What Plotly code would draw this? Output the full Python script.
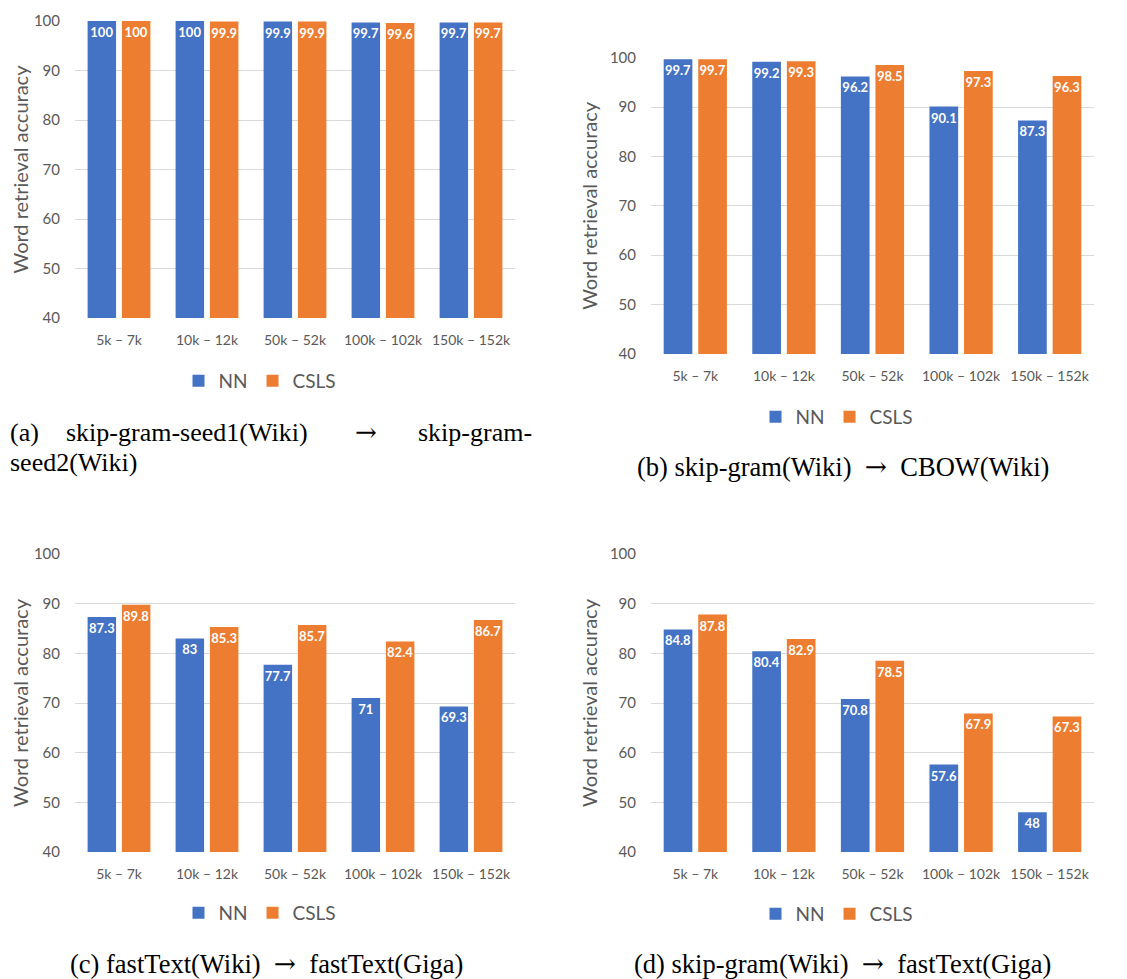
import plotly.graph_objects as go

W, H = 1127, 979
OFF = 8  # page body margin of the browser

categories = ["5k – 7k", "10k – 12k", "50k – 52k", "100k – 102k", "150k – 152k"]

nn_a = [100, 100, 99.9, 99.7, 99.7]
csls_a = [100, 99.9, 99.9, 99.6, 99.7]
nn_b = [99.7, 99.2, 96.2, 90.1, 87.3]
csls_b = [99.7, 99.3, 98.5, 97.3, 96.3]
nn_c = [87.3, 83, 77.7, 71, 69.3]
csls_c = [89.8, 85.3, 85.7, 82.4, 86.7]
nn_d = [84.8, 80.4, 70.8, 57.6, 48]
csls_d = [87.8, 82.9, 78.5, 67.9, 67.3]

y_ticks = [40, 50, 60, 70, 80, 90, 100]

ARROW = '<span style="font-family:\'DejaVu Serif\'">→</span>'
SARROW = f"&nbsp;{ARROW}&nbsp;"
captions = {
    "b": f"(b) skip-gram(Wiki) {SARROW} CBOW(Wiki)",
    "c": f"(c) fastText(Wiki) {SARROW} fastText(Giga)",
    "d": f"(d) skip-gram(Wiki) {SARROW} fastText(Giga)",
}

BLUE = "#4472C4"
ORANGE = "#ED7D31"
GRID = "#D9D9D9"
TXT = "#595959"
FONT = "Lato, 'Open Sans', sans-serif"
SERIF = "'Liberation Serif', 'Times New Roman', serif"
CAP = 26
CAP2 = 26.5


def px_x(v):
    return (v - OFF) / W


def px_y(v):
    return 1 - (v - OFF) / H


panels = [
    # (nn, csls, x0, x1, ytop, ybot, legend center x, legend y)
    (nn_a, csls_a, 75, 515, 21, 318, 260, 381),
    (nn_b, csls_b, 651, 1094, 57.7, 354, 837, 417),
    (nn_c, csls_c, 75, 515, 554, 852, 260, 913),
    (nn_d, csls_d, 651, 1094, 554, 852, 837, 914),
]

fig = go.Figure()
layout = dict(
    width=W,
    height=H,
    margin=dict(l=0, r=0, t=0, b=0, autoexpand=False),
    paper_bgcolor="white",
    plot_bgcolor="white",
    barmode="group",
    bargap=0.22,
    bargroupgap=0.17,
    font=dict(family=FONT, color=TXT),
    uniformtext=dict(minsize=13, mode="show"),
)

annotations = []
for i, (nn, cs, x0, x1, yt, yb, lx, ly) in enumerate(panels):
    n = i + 1
    xa = "x" if n == 1 else f"x{n}"
    ya = "y" if n == 1 else f"y{n}"
    lg = "legend" if n == 1 else f"legend{n}"
    for name, vals, col in (("NN", nn, BLUE), ("CSLS", cs, ORANGE)):
        fig.add_trace(go.Bar(
            x=categories, y=vals, name=name, xaxis=xa, yaxis=ya,
            marker=dict(color=col, line=dict(width=0)),
            texttemplate="%{y}", textposition="inside", insidetextanchor="end",
            textangle=0, textfont=dict(color="white", size=13, family=FONT, weight="bold"),
            legend=lg, showlegend=True,
        ))
    xkey = "xaxis" if n == 1 else f"xaxis{n}"
    ykey = "yaxis" if n == 1 else f"yaxis{n}"
    layout[xkey] = dict(
        domain=[px_x(x0), px_x(x1)], anchor=ya, showgrid=False, showline=False,
        zeroline=False, ticks="", tickfont=dict(size=14, color=TXT, family=FONT),
        ticklabelstandoff=12, fixedrange=True, automargin=False,
    )
    layout[ykey] = dict(
        domain=[px_y(yb), px_y(yt)], anchor=xa, range=[40, 100],
        tickvals=y_ticks, showgrid=True, gridcolor=GRID, gridwidth=1,
        showline=False, zeroline=False, ticks="",
        tickfont=dict(size=15, color=TXT, family=FONT), ticklabelstandoff=14,
        title=dict(text="Word retrieval accuracy", font=dict(size=20, color=TXT, family=FONT), standoff=6),
        fixedrange=True, automargin=False,
    )
    layout[lg] = dict(
        orientation="h", x=px_x(lx), y=px_y(ly), xanchor="center", yanchor="middle",
        font=dict(size=19, color=TXT, family=FONT), bgcolor="rgba(0,0,0,0)",
        itemwidth=30, tracegroupgap=0,
    )

# Caption (a): justified over two lines
cap_y1 = px_y(432)
cap_y2 = px_y(462)
for text, x, anchor in (("(a)", OFF, "left"), ("skip-gram-seed1(Wiki)", 64, "left"),
                        (ARROW, 366, "center"), ("skip-gram-", 416, "left")):
    annotations.append(dict(text=text, x=px_x(x), y=cap_y1,
                            xref="paper", yref="paper",
                            xanchor=anchor, yanchor="middle", showarrow=False,
                            font=dict(family=SERIF, size=CAP, color="black")))
annotations.append(dict(text="seed2(Wiki)", x=px_x(OFF), y=cap_y2, xref="paper", yref="paper",
                        xanchor="left", yanchor="middle", showarrow=False,
                        font=dict(family=SERIF, size=CAP, color="black")))
for key, cx, cy in (("b", 843, 466), ("c", 266, 963), ("d", 842, 963)):
    annotations.append(dict(text=captions[key], x=px_x(cx), y=px_y(cy), xref="paper", yref="paper",
                            xanchor="center", yanchor="middle", showarrow=False,
                            font=dict(family=SERIF, size=CAP2, color="black")))

layout["annotations"] = annotations
fig.update_layout(**layout)
fig.write_html("out.html")
